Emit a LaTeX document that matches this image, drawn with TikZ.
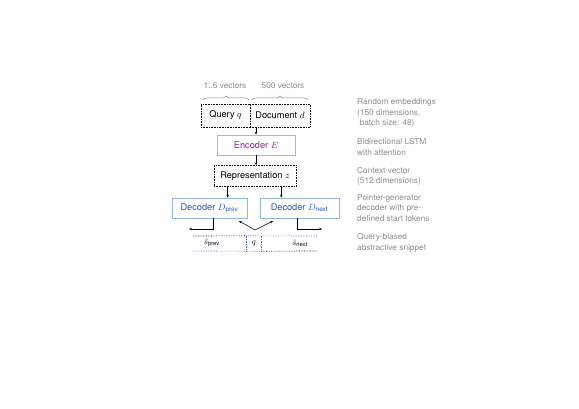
\documentclass[tikz,border=0pt]{standalone}
\usepackage{amsmath}
\usepackage{fontspec}
\setmainfont{TeX Gyre Heros}
\usetikzlibrary{arrows.meta,decorations.pathreplacing}
\definecolor{encborder}{RGB}{225,150,225}
\definecolor{enctext}{RGB}{150,30,150}
\definecolor{decborder}{RGB}{150,180,225}
\definecolor{dectext}{RGB}{40,90,185}
\definecolor{dotblue}{RGB}{60,110,210}
\definecolor{labgray}{RGB}{140,140,140}
\begin{document}
\begin{tikzpicture}[x=1pt,y=-1pt,
  every node/.style={font=\fontsize{8.3}{10.5}\selectfont, inner sep=0pt},
  boxfont/.style={font=\fontsize{9.2}{11}\selectfont},
  dotbox/.style={draw, densely dotted, line width=0.6pt, boxfont},
  encbox/.style={draw=encborder, line width=0.6pt, text=enctext, boxfont},
  decbox/.style={draw=decborder, line width=0.6pt, text=dectext, boxfont},
  arr/.style={-{Stealth[length=3pt,width=2.4pt]}, line width=0.5pt},
  lab/.style={anchor=west, text=labgray, align=left},
  brc/.style={decorate, decoration={brace, amplitude=4pt}, draw=labgray, line width=0.5pt},
  dotline/.style={densely dotted, line width=0.65pt},
]
\useasboundingbox (0,0) rectangle (579,409);
% top boxes
\node[dotbox, minimum width=49pt, minimum height=23pt] (query) at (225.5,115.5) {Query $q$};
\node[dotbox, minimum width=60pt, minimum height=23pt] (doc) at (280,115.5) {Document $d$};
% braces
\draw[brc] (203,100) -- (249,100);
\draw[brc] (252,100) -- (308,100);
\node[text=labgray] (l16) at (225,86) {1..6 vectors};
\node[text=labgray] (l500) at (283,86) {500 vectors};
% encoder
\node[encbox, minimum width=78pt, minimum height=20pt] (enc) at (256,145) {Encoder $E$};
\draw[arr] (enc.north |- doc.south) -- (enc.north);
% representation
\node[dotbox, minimum width=82pt, minimum height=21pt] (rep) at (255,176) {Representation $z$};
\draw[arr] (enc.south) -- (enc.south |- rep.north);
% decoders
\node[decbox, minimum width=75pt, minimum height=20pt] (dprev) at (209.5,208) {Decoder $D_{\text{prev}}$};
\node[decbox, minimum width=79pt, minimum height=20pt] (dnext) at (299.5,208) {Decoder $D_{\text{next}}$};
\draw[arr] ([xshift=14pt]rep.south west) -- ([xshift=14pt]rep.south west |- dprev.north);
\draw[arr] ([xshift=-15pt]rep.south east) -- ([xshift=-15pt]rep.south east |- dnext.north);
% outputs
\coordinate (po) at (189,229);
\coordinate (no) at (322,229);
\draw[arr] ([xshift=3.5pt]dprev.south) |- (po);
\draw[arr] ([xshift=-2.5pt]dnext.south) |- (no);
% q feeding both decoders
\coordinate (qv) at (255,230);
\coordinate (vl) at (239,221);
\coordinate (vr) at (273,221);
\draw[arr] (qv) -- (vl);
\draw[arr] (qv) -- (vr);
% snippet
\node[minimum width=14pt, minimum height=15pt] (qs) at (254,243.5) {$q$};
\node (sprev) at (212,243) {$\hat{s}_{\text{prev}}$};
\node (snext) at (300,243) {$\hat{s}_{\text{next}}$};
\coordinate (tl) at (193,236);
\coordinate (tr) at (317,236);
\coordinate (bl) at (193,251);
\coordinate (br) at (317,251);
\draw[dotline] (tl) -- (qs.north west);
\draw[dotline, dotblue] (qs.north west) -- (tr);
\draw[dotline, dotblue] (bl) -- (qs.south east);
\draw[dotline] (qs.south east) -- (br);
\draw[dotline, dotblue] (qs.north west) -- (qs.south west);
\draw[dotline, dotblue] (qs.north east) -- (qs.south east);
% right-hand labels
\node[lab] (t1) at (357,113) {Random embeddings\\(150 dimensions,\\\hspace{2.5pt}batch size: 48)};
\node[lab] (t2) at (357,147) {Bidirectional LSTM\\with attention};
\node[lab] (t3) at (357,176.5) {Context vector\\(512 dimensions)};
\node[lab] (t4) at (357,208) {Pointer-generator\\decoder with pre-\\defined start tokens};
\node[lab] (t5) at (357,243) {Query-biased\\abstractive snippet};
\end{tikzpicture}
\end{document}
